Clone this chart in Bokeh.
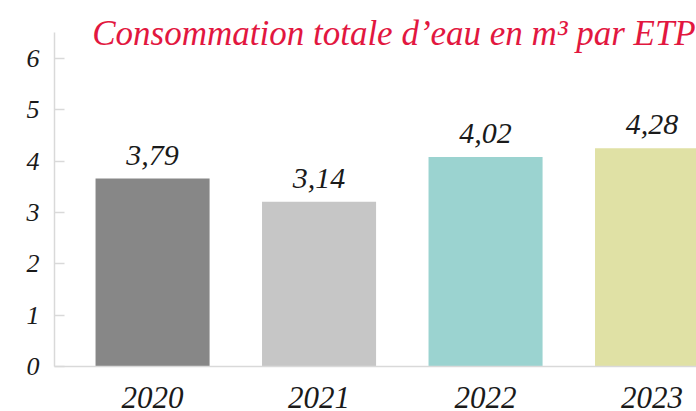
from bokeh.plotting import figure
from bokeh.models import Range1d, FixedTicker, ColumnDataSource, LabelSet, Label
from bokeh.embed import file_html
from bokeh.resources import INLINE

# ---- data ----
years = ["2020", "2021", "2022", "2023"]
bar_values = [3.66, 3.21, 4.08, 4.25]
value_labels = ["3,79", "3,14", "4,02", "4,28"]
bar_colors = ["#878787", "#c6c6c6", "#9bd3d0", "#e0e1a5"]
y_ticks = [0, 1, 2, 3, 4, 5, 6]
title_text = "Consommation totale d\u2019eau en m\u00b3 par ETP"

FONT = "'Liberation Serif', 'Times New Roman', serif"
x_pos = list(range(len(years)))
src = ColumnDataSource(dict(x=x_pos, top=bar_values, label=value_labels, color=bar_colors))

p = figure(width=696, height=436, output_backend="svg", toolbar_location=None,
           x_range=Range1d(-0.589, 3.267), y_range=Range1d(0, 7.13),
           min_border_left=54, min_border_right=0, min_border_top=0, min_border_bottom=70)
p.outline_line_color = None
p.xgrid.visible = False
p.ygrid.visible = False
p.background_fill_color = "white"
p.border_fill_color = "white"

p.vbar(x="x", top="top", width=0.685, bottom=0, color="color", line_color=None, source=src)

labels = LabelSet(x="x", y="top", text="label", source=src, y_offset=14,
                  text_align="center", text_baseline="alphabetic",
                  text_font=FONT, text_font_style="italic", text_font_size="30px",
                  text_color="#1a1a1a")
p.add_layout(labels)

title = Label(x=1.45, y=6.49, text=title_text, text_align="center", text_baseline="alphabetic",
              text_font=FONT, text_font_style="italic", text_font_size="35px",
              text_color="#e2173f")
p.add_layout(title)

ya = p.yaxis[0]
ya.ticker = FixedTicker(ticks=y_ticks)
ya.bounds = (0, 6.5)
ya.axis_line_color = "#d9d9d9"
ya.axis_line_width = 1.5
ya.major_tick_in = 10
ya.major_tick_out = 0
ya.major_tick_line_color = "#d9d9d9"
ya.major_tick_line_width = 1.5
ya.minor_tick_line_color = None
ya.major_label_standoff = 15
ya.major_label_text_font = FONT
ya.major_label_text_font_style = "italic"
ya.major_label_text_font_size = "26px"
ya.major_label_text_color = "#1a1a1a"

xa = p.xaxis[0]
xa.ticker = FixedTicker(ticks=x_pos)
xa.major_label_overrides = {i: y for i, y in zip(x_pos, years)}
xa.axis_line_color = "#d9d9d9"
xa.axis_line_width = 1.5
xa.major_tick_line_color = None
xa.minor_tick_line_color = None
xa.major_tick_in = 0
xa.major_tick_out = 0
xa.major_label_standoff = 20
xa.major_label_text_font = FONT
xa.major_label_text_font_style = "italic"
xa.major_label_text_font_size = "31px"
xa.major_label_text_color = "#1a1a1a"

open("out.html", "w").write(file_html(p, INLINE))
